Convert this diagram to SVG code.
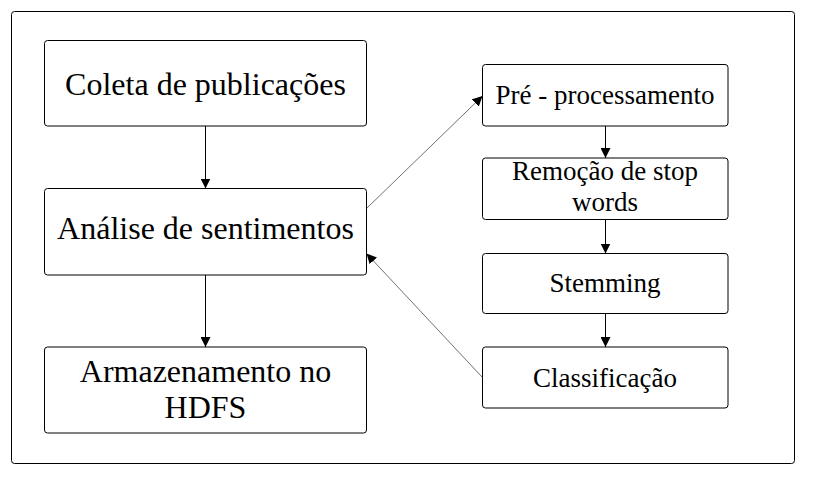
<svg xmlns="http://www.w3.org/2000/svg" width="816" height="479" viewBox="0 0 816 479">
<defs>
<style>
.box{fill:#fff;stroke:#000;stroke-width:1}
.c{stroke:#000;stroke-width:1;fill:none}
.d{stroke:#333;stroke-width:0.7;fill:none}
</style>
<marker id="ah" viewBox="0 0 10 10" refX="10" refY="5" markerWidth="10" markerHeight="10" markerUnits="userSpaceOnUse" orient="auto">
<path d="M0,0 L10,5 L0,10 z" fill="#000"/>
</marker>
</defs>
<rect x="0" y="0" width="816" height="479" fill="#fff"/>
<rect id="frame" x="11.5" y="11.5" width="783" height="452" rx="3" class="box"/>
<g id="n1"><rect x="44.5" y="40.5" width="322" height="85.5" rx="3" class="box"/><text x="205.5" y="94.5" font-family="Liberation Serif" font-size="32" text-anchor="middle">Coleta de publicações</text></g>
<g id="n2"><rect x="44.5" y="188.5" width="322" height="86.5" rx="3" class="box"/><text x="205.5" y="238.5" font-family="Liberation Serif" font-size="32" text-anchor="middle">Análise de sentimentos</text></g>
<g id="n3"><rect x="44.5" y="347" width="322" height="86" rx="3" class="box"/><text x="205.5" y="381.5" font-family="Liberation Serif" font-size="32" text-anchor="middle">Armazenamento no</text><text x="205.5" y="418" font-family="Liberation Serif" font-size="32" text-anchor="middle">HDFS</text></g>
<g id="n4"><rect x="482.5" y="64.5" width="245.5" height="61.5" rx="3" class="box"/><text x="605" y="104" font-family="Liberation Serif" font-size="27" text-anchor="middle">Pré - processamento</text></g>
<g id="n5"><rect x="482.5" y="158" width="245.5" height="61.5" rx="3" class="box"/><text x="605" y="180" font-family="Liberation Serif" font-size="27" text-anchor="middle">Remoção de stop</text><text x="605" y="211" font-family="Liberation Serif" font-size="27" text-anchor="middle">words</text></g>
<g id="n6"><rect x="482.5" y="253.5" width="245.5" height="60" rx="3" class="box"/><text x="605" y="292" font-family="Liberation Serif" font-size="27" text-anchor="middle">Stemming</text></g>
<g id="n7"><rect x="482.5" y="347" width="245.5" height="61" rx="3" class="box"/><text x="605" y="386.5" font-family="Liberation Serif" font-size="27" text-anchor="middle">Classificação</text></g>
<g id="connectors">
<line x1="205.5" y1="126" x2="205.5" y2="188.5" class="c" marker-end="url(#ah)"/>
<line x1="205.5" y1="275" x2="205.5" y2="347" class="c" marker-end="url(#ah)"/>
<line x1="605.5" y1="126" x2="605.5" y2="158" class="c" marker-end="url(#ah)"/>
<line x1="605.5" y1="219.5" x2="605.5" y2="253.5" class="c" marker-end="url(#ah)"/>
<line x1="605.5" y1="313.5" x2="605.5" y2="347" class="c" marker-end="url(#ah)"/>
<line x1="366.5" y1="208.5" x2="482.5" y2="96" class="d" marker-end="url(#ah)"/>
<line x1="482.5" y1="377.5" x2="366.5" y2="253.5" class="d" marker-end="url(#ah)"/>
</g>
</svg>
